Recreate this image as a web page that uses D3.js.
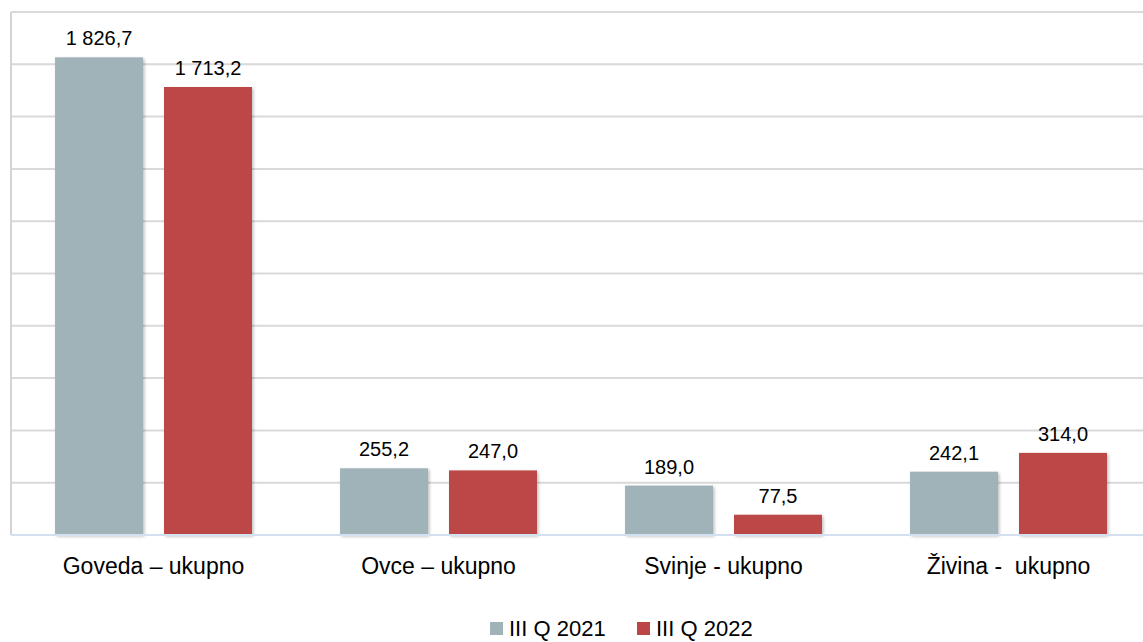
<!DOCTYPE html>
<html>
<head>
<meta charset="utf-8">
<script src="https://cdn.jsdelivr.net/npm/d3@7"></script>
<style>
  body { margin: 0; background: #fff; }
  text { font-family: "Liberation Sans", Arial, sans-serif; fill: #000; }
</style>
</head>
<body>
<div id="chart"></div>
<script>
  const w = 1143;
  const h = 642;

  // data
  const categories = ['Goveda – ukupno', 'Ovce – ukupno', 'Svinje - ukupno', 'Živina -  ukupno'];
  const seriesNames = ['III Q 2021', 'III Q 2022'];
  const values2021 = [1826.7, 255.2, 189.0, 242.1];
  const values2022 = [1713.2, 247.0, 77.5, 314.0];
  const gridTicks = [0, 200, 400, 600, 800, 1000, 1200, 1400, 1600, 1800, 2000];

  const colors = ['#a0b3b9', '#bc4646'];
  const plotLeft = 11, plotRight = 1151, plotTop = 12, plotBottom = 535;

  const x0 = d3.scaleBand().domain(categories).range([plotLeft, plotRight]);
  const x1 = d3.scaleBand().domain(seriesNames).range([0, x0.bandwidth()])
    .paddingInner(0.193).paddingOuter(0.404);
  const y = d3.scaleLinear().domain([0, 2000]).range([plotBottom, plotTop]);

  const fmt = v => {
    const s = v.toFixed(1).replace('.', ',');
    const [i, d] = s.split(',');
    return i.replace(/\B(?=(\d{3})+(?!\d))/g, ' ') + ',' + d;
  };

  const rows = categories.map((c, i) => ({
    cat: c,
    vals: [values2021[i], values2022[i]].map((v, j) => ({ key: seriesNames[j], value: v, color: colors[j] }))
  }));

  const svg = d3.select('#chart').append('svg')
    .attr('width', w)
    .attr('height', h);

  const defs = svg.append('defs');
  const shadow = defs.append('filter').attr('id', 'shadow')
    .attr('x', '-10%').attr('y', '-10%').attr('width', '130%').attr('height', '130%');
  shadow.append('feDropShadow')
    .attr('dx', 1.5).attr('dy', 1.5).attr('stdDeviation', 1.5)
    .attr('flood-color', '#000').attr('flood-opacity', 0.25);

  // gridlines
  svg.append('g').selectAll('line')
    .data(gridTicks.filter(t => t > 0))
    .enter().append('line')
      .attr('x1', plotLeft)
      .attr('x2', w)
      .attr('y1', d => y(d))
      .attr('y2', d => y(d))
      .style('stroke', '#d9d9d9')
      .style('stroke-width', 2);

  // left axis line
  svg.append('line')
    .attr('x1', plotLeft).attr('x2', plotLeft)
    .attr('y1', plotTop).attr('y2', plotBottom)
    .style('stroke', '#d4d4d4')
    .style('stroke-width', 2);

  // bars
  const groups = svg.append('g').selectAll('g')
    .data(rows)
    .enter().append('g')
      .attr('transform', d => 'translate(' + x0(d.cat) + ',0)');

  groups.selectAll('rect')
    .data(d => d.vals)
    .enter().append('rect')
      .attr('x', d => x1(d.key))
      .attr('y', d => y(d.value))
      .attr('width', x1.bandwidth())
      .attr('height', d => y(0) - y(d.value))
      .style('fill', d => d.color)
      .attr('filter', 'url(#shadow)');

  groups.selectAll('text.value')
    .data(d => d.vals)
    .enter().append('text')
      .attr('class', 'value')
      .attr('x', d => x1(d.key) + x1.bandwidth() / 2)
      .attr('y', d => y(d.value) - 12)
      .attr('text-anchor', 'middle')
      .style('font-size', '20px')
      .text(d => fmt(d.value));

  // baseline
  svg.append('line')
    .attr('x1', plotLeft).attr('x2', w)
    .attr('y1', y(0)).attr('y2', y(0))
    .style('stroke', '#d3e0f0')
    .style('stroke-width', 2);

  // category labels
  svg.append('g').selectAll('text')
    .data(categories)
    .enter().append('text')
      .attr('x', d => x0(d) + x0.bandwidth() / 2)
      .attr('y', 574)
      .attr('text-anchor', 'middle')
      .style('font-size', '23px')
      .style('white-space', 'pre')
      .attr('xml:space', 'preserve')
      .text(d => d);

  // legend
  const legend = svg.append('g');
  const legendX = [490, 637];
  seriesNames.forEach((s, i) => {
    legend.append('rect')
      .attr('x', legendX[i]).attr('y', 622)
      .attr('width', 13).attr('height', 13)
      .style('fill', colors[i]);
    legend.append('text')
      .attr('x', legendX[i] + 19).attr('y', 636)
      .style('font-size', '22px')
      .text(s);
  });
</script>
</body>
</html>
